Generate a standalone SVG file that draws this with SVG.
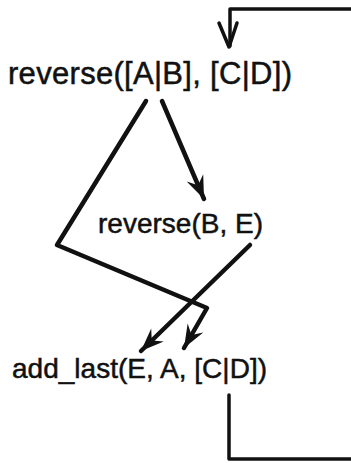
<svg xmlns="http://www.w3.org/2000/svg" width="351" height="463" viewBox="0 0 351 463">
<defs>
<style>
text{font-family:"Liberation Sans",Arial,sans-serif;fill:#111;stroke:#111;stroke-width:0.5}
.big{font-size:31px}
.mid{font-size:28px}
.c{fill:none;stroke:#111;stroke-linejoin:round;stroke-linecap:round}
.t{stroke-width:4.5}
.n{stroke-width:3.5}
</style>
<marker id="barb" viewBox="-24 -10 26 20" refX="0" refY="0" markerWidth="26" markerHeight="20" markerUnits="userSpaceOnUse" orient="auto">
<path d="M0,0 L-23,-9 L-15,0 L-23,9 Z" fill="#111"/>
</marker>
</defs>
<g id="connectors">
<path class="c n" d="M351,9 L230,9 L230,46"/>
<path class="c n" d="M219,23 L229,47 L237,23"/>
<path class="c t" d="M162,101 L204,199" marker-end="url(#barb)"/>
<path class="c t" d="M146,101 L57,245 L207,308 L184,348" marker-end="url(#barb)"/>
<path class="c t" d="M250,245 L141,351" marker-end="url(#barb)"/>
<path class="c n" d="M229,395 L229,459 L351,459"/>
</g>
<g id="node-reverse-ab-cd"><text class="big" x="8" y="84" textLength="284" lengthAdjust="spacing">reverse([A|B], [C|D])</text></g>
<g id="node-reverse-b-e"><text class="mid" x="98" y="233" textLength="165" lengthAdjust="spacing">reverse(B, E)</text></g>
<g id="node-add-last"><text class="mid" x="12" y="378" textLength="255" lengthAdjust="spacing">add_last(E, A, [C|D])</text></g>
</svg>
